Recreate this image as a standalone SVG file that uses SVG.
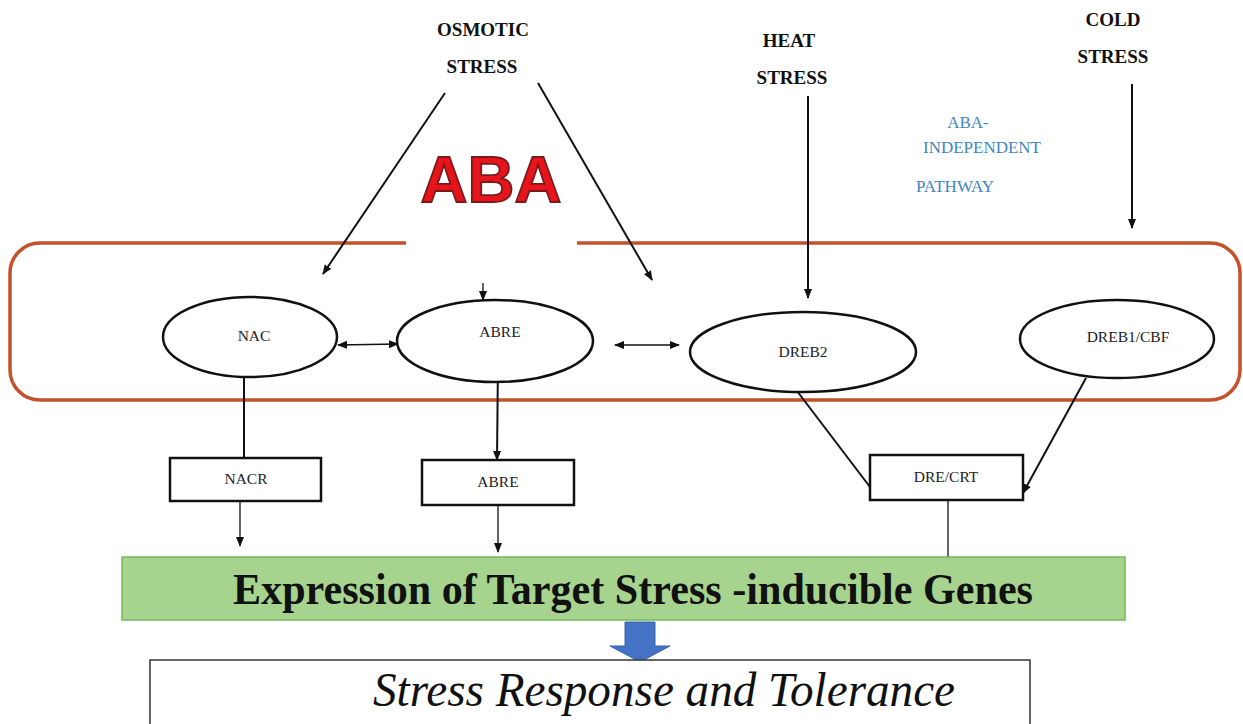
<svg xmlns="http://www.w3.org/2000/svg" width="1243" height="724" viewBox="0 0 1243 724">
<style>
.hdr{font-family:"Liberation Serif",serif;font-weight:bold;font-size:19px;fill:#111;text-anchor:middle}
.lbl{font-family:"Liberation Serif",serif;font-size:15.5px;fill:#222;text-anchor:middle}
.blue{font-family:"Liberation Serif",serif;font-size:17px;fill:#3F86BF;text-anchor:middle}
.ell{fill:#fff;stroke:#111;stroke-width:2.5}
.box{fill:#fff;stroke:#111;stroke-width:2.5}
.ln{stroke:#111;fill:none;stroke-width:2}
.thin{stroke:#111;fill:none;stroke-width:1.3}
</style>
<defs>
<marker id="ah" viewBox="0 0 10 10" refX="9" refY="5" markerWidth="10" markerHeight="10" markerUnits="userSpaceOnUse" orient="auto-start-reverse">
<path d="M0,1 L10,5 L0,9 Z" fill="#111"/>
</marker>
</defs>
<rect width="1243" height="724" fill="#fff"/>

<g id="membrane">
<path d="M406,243 H40 A30,30 0 0 0 10,273 V370 A30,30 0 0 0 40,400 H1210 A30,30 0 0 0 1240,370 V273 A30,30 0 0 0 1210,243 H577" fill="none" stroke="#C4512B" stroke-width="3.5"/>
</g>

<g id="osmotic"><text class="hdr" x="483" y="36">OSMOTIC</text><text class="hdr" x="482" y="73">STRESS</text></g>
<g id="heat"><text class="hdr" x="789" y="47">HEAT</text><text class="hdr" x="792" y="84">STRESS</text></g>
<g id="cold"><text class="hdr" x="1113" y="26">COLD</text><text class="hdr" x="1113" y="63">STRESS</text></g>
<g id="aba-independent"><text class="blue" x="968" y="128">ABA-</text><text class="blue" x="982" y="153">INDEPENDENT</text><text class="blue" x="955" y="192">PATHWAY</text></g>
<g id="aba"><text x="491" y="202" font-family="Liberation Sans,Arial,sans-serif" font-weight="bold" font-size="65" fill="#E8141B" stroke="#7A1A1A" stroke-width="1.8" text-anchor="middle">ABA</text></g>

<g id="connectors">
<line class="ln" x1="445" y1="93" x2="323" y2="274" marker-end="url(#ah)"/>
<line class="ln" x1="538" y1="83" x2="652" y2="280" marker-end="url(#ah)"/>
<line class="ln" x1="808" y1="96" x2="808" y2="298" marker-end="url(#ah)"/>
<line class="ln" x1="1132" y1="84" x2="1132" y2="228" marker-end="url(#ah)"/>
<line class="thin" x1="483" y1="283" x2="483" y2="300" marker-end="url(#ah)"/>
<line class="thin" x1="338" y1="345" x2="398" y2="344" marker-start="url(#ah)" marker-end="url(#ah)"/>
<line class="thin" x1="615" y1="345" x2="679" y2="345" marker-start="url(#ah)" marker-end="url(#ah)"/>
<line class="ln" x1="244" y1="378" x2="244" y2="459"/>
<line class="ln" x1="498" y1="360" x2="497" y2="460" marker-end="url(#ah)"/>
<line class="ln" x1="797" y1="391" x2="870" y2="487"/>
<line class="ln" x1="1086" y1="378" x2="1023" y2="493" marker-end="url(#ah)"/>
<line class="thin" x1="240" y1="502" x2="240" y2="546" marker-end="url(#ah)"/>
<line class="thin" x1="498" y1="506" x2="498" y2="552" marker-end="url(#ah)"/>
<line class="thin" x1="948" y1="501" x2="948" y2="557"/>
</g>

<g id="nac"><ellipse class="ell" cx="250" cy="337" rx="87" ry="40"/><text class="lbl" x="254" y="341">NAC</text></g>
<g id="abre-tf"><ellipse class="ell" cx="495" cy="341" rx="98" ry="41"/><text class="lbl" x="500" y="337">ABRE</text></g>
<g id="dreb2"><ellipse class="ell" cx="803" cy="352" rx="113" ry="40"/><text class="lbl" x="803" y="357">DREB2</text></g>
<g id="dreb1"><ellipse class="ell" cx="1117" cy="339" rx="97" ry="39"/><text class="lbl" x="1128" y="342">DREB1/CBF</text></g>

<g id="nacr"><rect class="box" x="170" y="458" width="151" height="43"/><text class="lbl" x="246" y="484">NACR</text></g>
<g id="abre-el"><rect class="box" x="422" y="460" width="152" height="45"/><text class="lbl" x="498" y="487">ABRE</text></g>
<g id="drecrt"><rect class="box" x="870" y="455" width="153" height="45"/><text class="lbl" x="946" y="482">DRE/CRT</text></g>

<g id="expression"><rect x="122" y="557" width="1003" height="63" fill="#A6D48E" stroke="#74B85A" stroke-width="1.5"/>
<text x="233" y="604" font-family="Liberation Serif,serif" font-weight="bold" font-size="44" fill="#111" textLength="800" lengthAdjust="spacingAndGlyphs">Expression of Target Stress -inducible Genes</text></g>

<g id="blue-arrow"><path d="M625,622 H655 V646 H670 L640,662 L610,646 H625 Z" fill="#4472C4" stroke="#3A62A8" stroke-width="1"/></g>

<g id="response"><rect x="150" y="660" width="880" height="80" fill="#fff" stroke="#333" stroke-width="1.5"/>
<text x="373" y="706" font-family="Liberation Serif,serif" font-style="italic" font-size="48" fill="#111" textLength="582" lengthAdjust="spacingAndGlyphs">Stress Response and Tolerance</text></g>
</svg>
